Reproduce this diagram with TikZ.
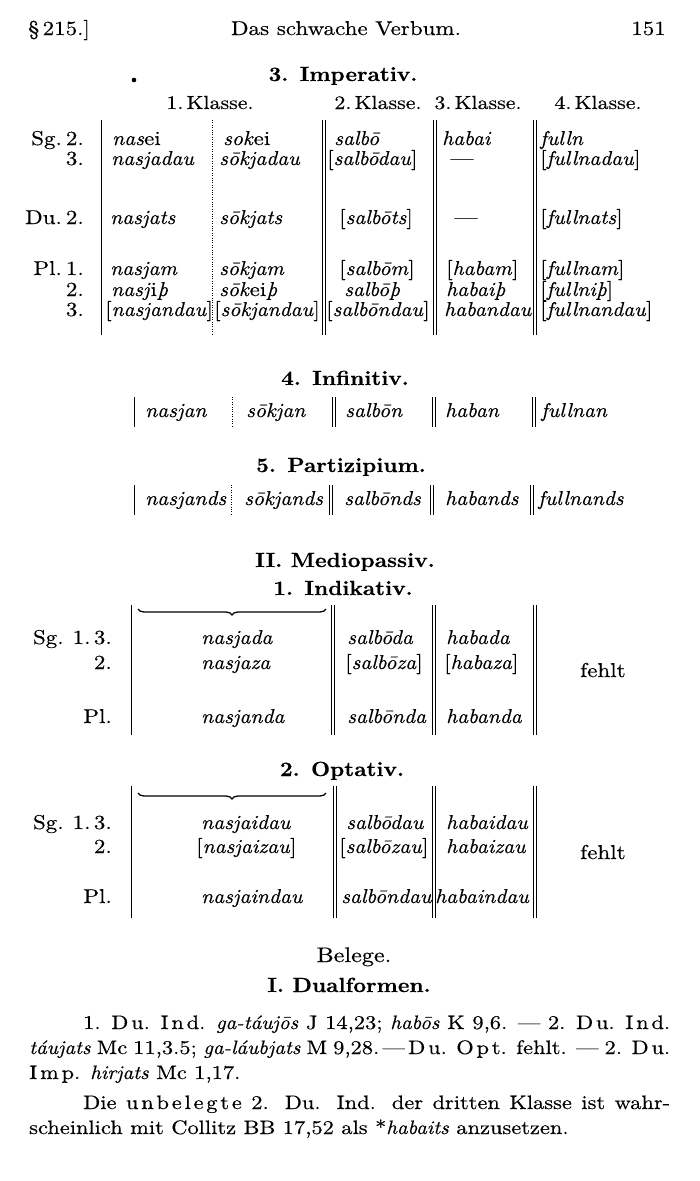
\documentclass[tikz,border=0pt]{standalone}
\usepackage{fontspec}
\setmainfont{lmroman10-regular.otf}[
  ItalicFont=lmroman10-italic.otf,
  BoldFont=lmroman10-bold.otf,
  BoldItalicFont=lmroman10-bolditalic.otf,
  UprightFeatures={FakeStretch=1.15, FakeBold=0.4},
  ItalicFeatures={FakeStretch=1.07, FakeBold=0.4},
  BoldFeatures={FakeStretch=1.08, FakeBold=0.3}]
\usetikzlibrary{decorations.pathreplacing}
\def\ks{\kern2.8pt}
\begin{document}
\begin{tikzpicture}[x=1pt,y=-1pt,
  txt/.style={inner sep=0pt, font=\fontsize{20}{24}\selectfont},
  lab/.style={txt, anchor=base east},
  ent/.style={txt, anchor=base west},
  ctr/.style={txt, anchor=base},
  klasse/.style={ctr, font=\fontsize{19}{24}\selectfont},
  par/.style={ent, font=\fontsize{19.5}{24}\selectfont},
  hd/.style={inner sep=0pt, anchor=base, font=\fontsize{20.5}{24}\selectfont\bfseries},
  rule/.style={line width=0.8pt},
  dotrule/.style={line width=0.8pt, dash pattern=on 1pt off 1.4pt},
  bracepath/.style={line width=1.3pt, decorate, decoration={brace, amplitude=6pt, mirror}}]
\fill[white] (0,0) rectangle (700,1181);
\useasboundingbox (0,0) rectangle (700,1181);

% ---------- header
\node[ent] (h1) at (28,35) {\S\,215.]};
\node[ctr] (h2) at (346,35) {Das schwache Verbum.};
\node[lab] (h3) at (666,35) {151};

% ---------- 3. Imperativ
\node[hd] (t3) at (343,81) {3. Imperativ.};
\fill (134,80) circle (2.3);
\node[klasse] (k1) at (210,109) {1.\,Klasse.};
\node[klasse] (k2) at (378,109) {2.\,Klasse.};
\node[klasse] (k3) at (478,109) {3.\,Klasse.};
\node[klasse] (k4) at (598,109) {4.\,Klasse.};

\node[lab] (r1) at (84,145) {Sg.\hspace{4pt}2.};
\node[lab] (r2) at (84,165) {3.};
\node[lab] (r3) at (84,224) {Du.\hspace{4pt}2.};
\node[lab] (r4) at (84,275) {Pl.\hspace{4pt}1.};
\node[lab] (r5) at (84,296) {2.};
\node[lab] (r6) at (84,316) {3.};

\node[ent] (a1) at (112,145) {\textit{nas}ei};
\node[ent] (a2) at (111,165) {\textit{nasjadau}};
\node[ent] (a3) at (110,224) {\textit{nasjats}};
\node[ent] (a4) at (110,275) {\textit{nasjam}};
\node[ent] (a5) at (111,296) {\textit{nasj}i\textit{þ}};
\node[ent] (a6) at (105,316) {[\textit{nasjandau}]};

\node[ent] (b1) at (223,145) {\textit{sok}ei};
\node[ent] (b2) at (219,165) {\textit{sōkjadau}};
\node[ent] (b3) at (219,224) {\textit{sōkjats}};
\node[ent] (b4) at (219,275) {\textit{sōkjam}};
\node[ent] (b5) at (219,296) {\textit{sōk}ei\textit{þ}};
\node[ent] (b6) at (214,316) {[\textit{sōkjandau}]};

\node[ent] (c1) at (334,145) {\textit{salbō}};
\node[ent] (c2) at (327,165) {[\textit{salbōdau}]};
\node[ent] (c3) at (339,224) {[\textit{salbōts}]};
\node[ent] (c4) at (339,275) {[\textit{salbōm}]};
\node[ent] (c5) at (344,296) {\textit{salbōþ}};
\node[ent] (c6) at (326,316) {[\textit{salbōndau}]};

\node[ent] (d1) at (442,145) {\textit{habai}};
\node[ctr] (d2) at (462,165) {---};
\node[ctr] (d3) at (466,224) {---};
\node[ent] (d4) at (446,275) {[\textit{habam}]};
\node[ent] (d5) at (446,296) {\textit{habaiþ}};
\node[ent] (d6) at (444,316) {\textit{habandau}};

\node[ent] (e1) at (540,145) {\textit{fulln}};
\node[ent] (e2) at (540,165) {[\textit{fullnadau}]};
\node[ent] (e3) at (540,224) {[\textit{fullnats}]};
\node[ent] (e4) at (540,275) {[\textit{fullnam}]};
\node[ent] (e5) at (540,296) {[\textit{fullniþ}]};
\node[ent] (e6) at (540,316) {[\textit{fullnandau}]};

\draw[rule] (101,120) -- (101,335);
\draw[dotrule] (212,120) -- (212,335);
\foreach \x in {322,433,533}{
  \draw[rule] (\x,120) -- (\x,335);
  \draw[rule] (\x+3,120) -- (\x+3,335);}

% ---------- 4. Infinitiv
\node[hd] (t4) at (345,385) {4. Infinitiv.};
\node[ent] (i1) at (145,417) {\textit{nasjan}};
\node[ent] (i2) at (246,417) {\textit{sōkjan}};
\node[ent] (i3) at (345,417) {\textit{salbōn}};
\node[ent] (i4) at (445,417) {\textit{haban}};
\node[ent] (i5) at (541,417) {\textit{fullnan}};
\draw[rule] (134,397) -- (134,427);
\draw[dotrule] (232,397) -- (232,427);
\foreach \x in {332,432,532}{
  \draw[rule] (\x,397) -- (\x,427);
  \draw[rule] (\x+3,397) -- (\x+3,427);}

% ---------- 5. Partizipium
\node[hd] (t5) at (341,472) {5. Partizipium.};
\node[ent] (p1) at (145,505) {\textit{nasjands}};
\node[ent] (p2) at (244,505) {\textit{sōkjands}};
\node[ent] (p3) at (344,505) {\textit{salbōnds}};
\node[ent] (p4) at (445,505) {\textit{habands}};
\node[ent] (p5) at (538,505) {\textit{fullnands}};
\draw[rule] (134,485) -- (134,515);
\draw[dotrule] (231,485) -- (231,515);
\foreach \x in {329,430,530}{
  \draw[rule] (\x,485) -- (\x,515);
  \draw[rule] (\x+3,485) -- (\x+3,515);}

% ---------- II. Mediopassiv, 1. Indikativ
\node[hd] (t6) at (345,567) {II. Mediopassiv.};
\node[hd] (t7) at (343,595) {1. Indikativ.};
\draw[bracepath] (138,609) -- (326,609);
\node[lab] (m1) at (112,644) {Sg.\hspace{9pt}1.\,3.};
\node[lab] (m2) at (112,669) {2.};
\node[lab] (m3) at (112,723) {Pl.};
\node[ent] (n1) at (201,644) {\textit{nasjada}};
\node[ent] (n2) at (201,669) {\textit{nasjaza}};
\node[ent] (n3) at (201,723) {\textit{nasjanda}};
\node[ent] (s1) at (347,644) {\textit{salbōda}};
\node[ent] (s2) at (345,669) {[\textit{salbōza}]};
\node[ent] (s3) at (347,723) {\textit{salbōnda}};
\node[ent] (q1) at (446,644) {\textit{habada}};
\node[ent] (q2) at (444,669) {[\textit{habaza}]};
\node[ent] (q3) at (446,723) {\textit{habanda}};
\node[ent] (f1) at (580,677) {fehlt};
\draw[rule] (131,605) -- (131,735);
\foreach \x in {331,432,533}{
  \draw[rule] (\x,605) -- (\x,735);
  \draw[rule] (\x+3,605) -- (\x+3,735);}

% ---------- 2. Optativ
\node[hd] (t8) at (342,776) {2. Optativ.};
\draw[bracepath] (138,793) -- (326,793);
\node[lab] (o1) at (112,829) {Sg.\hspace{9pt}1.\,3.};
\node[lab] (o2) at (112,853) {2.};
\node[lab] (o3) at (112,903) {Pl.};
\node[ent] (u1) at (201,829) {\textit{nasjaidau}};
\node[ent] (u2) at (196,853) {[\textit{nasjaizau}]};
\node[ent] (u3) at (201,903) {\textit{nasjaindau}};
\node[ent] (v1) at (346,829) {\textit{salbōdau}};
\node[ent] (v2) at (339,853) {[\textit{salbōzau}]};
\node[ent] (v3) at (341,903) {\textit{salbōndau}};
\node[ent] (w1) at (446,829) {\textit{habaidau}};
\node[ent] (w2) at (446,853) {\textit{habaizau}};
\node[ent] (w3) at (435,903) {\textit{habaindau}};
\node[ent] (f2) at (580,859) {fehlt};
\draw[rule] (131,786) -- (131,918);
\foreach \x in {333,432,533}{
  \draw[rule] (\x,786) -- (\x,918);
  \draw[rule] (\x+3,786) -- (\x+3,918);}

% ---------- Belege
\node[ctr, font=\fontsize{21}{26}\selectfont] (t9) at (354,962) {Belege.};
\node[hd] (t10) at (349,992) {I. Dualformen.};
\node[par] (l1) at (83,1029)
  {\makebox[587pt][s]{1. D\ks u. I\ks n\ks d. \textit{ga-táujōs} J 14,23; \textit{habōs} K 9,6. --- 2. D\ks u. I\ks n\ks d.}};
\node[par] (l2) at (29,1054)
  {\makebox[641pt][s]{\textit{táujats} Mc 11,3.5; \textit{ga-láubjats} M 9,28.\,---\,D\ks u. O\ks p\ks t. fehlt. --- 2. D\ks u.}};
\node[par] (l3) at (29,1079)
  {I\ks m\ks p. \textit{hirjats} Mc 1,17.};
\node[par] (l4) at (83,1109)
  {\makebox[587pt][s]{Die u\ks n\ks b\ks e\ks l\ks e\ks g\ks t\ks e 2. Du. Ind. der dritten Klasse ist wahr-}};
\node[par] (l5) at (29,1134)
  {scheinlich mit Collitz BB 17,52 als *\textit{habaits} anzusetzen.};
\end{tikzpicture}
\end{document}
